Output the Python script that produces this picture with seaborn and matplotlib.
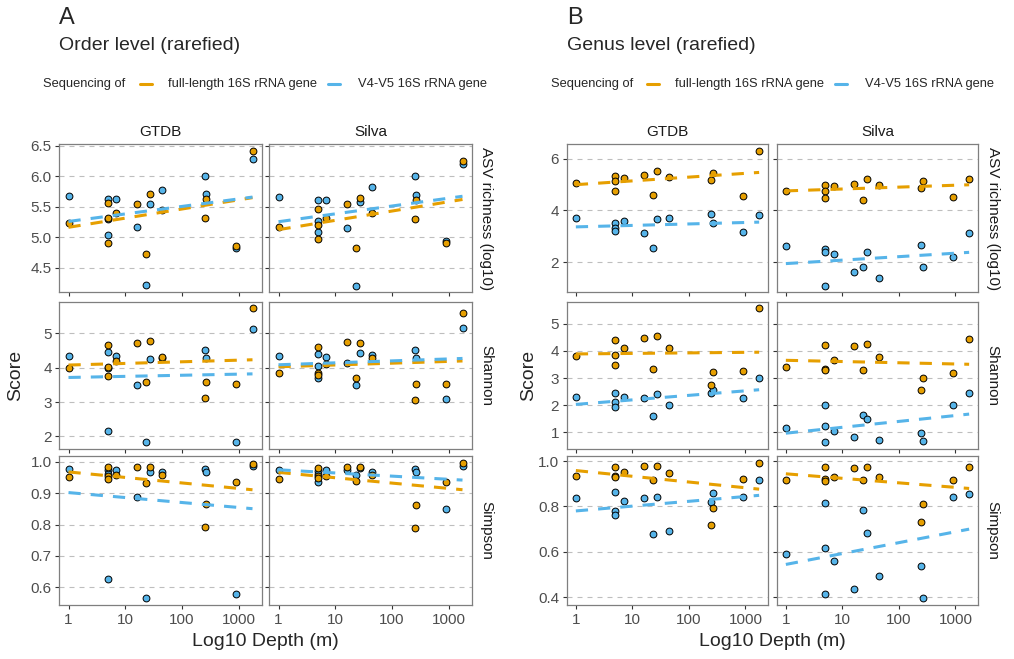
import pandas as pd
import matplotlib
matplotlib.use('Agg')
import matplotlib.pyplot as plt
import matplotlib.ticker as mticker
from matplotlib.lines import Line2D
import seaborn as sns

sns.set_style('white')
plt.rcParams['font.family'] = ['Liberation Sans', 'DejaVu Sans']

# sample depths (m), same samples in every facet
depth = [1, 5, 5, 5, 7, 16, 23, 27, 45, 250, 265, 900, 1750]

# --- Order level ---
order_gtdb_asv_full = [5.23, 5.56, 5.32, 4.91, 5.40, 5.54, 4.73, 5.71, 5.44, 5.31, 5.63, 4.86, 6.41]
order_gtdb_asv_v4v5 = [5.67, 5.62, 5.30, 5.04, 5.63, 5.16, 4.22, 5.55, 5.78, 6.00, 5.70, 4.82, 6.28]
order_silva_asv_full = [5.16, 5.47, 5.20, 4.97, 5.32, 5.54, 4.83, 5.65, 5.39, 5.30, 5.61, 4.91, 6.25]
order_silva_asv_v4v5 = [5.66, 5.61, 5.26, 5.09, 5.61, 5.15, 4.21, 5.58, 5.82, 6.00, 5.69, 4.94, 6.20]

order_gtdb_shannon_full = [3.98, 4.66, 4.02, 3.75, 4.19, 4.73, 3.59, 4.77, 4.31, 3.11, 3.59, 3.54, 5.73]
order_gtdb_shannon_v4v5 = [4.35, 4.47, 4.00, 2.16, 4.35, 3.49, 1.85, 4.26, 4.28, 4.53, 4.28, 1.83, 5.12]
order_silva_shannon_full = [3.86, 4.60, 3.85, 3.80, 4.12, 4.74, 3.70, 4.71, 4.28, 3.06, 3.54, 3.54, 5.61]
order_silva_shannon_v4v5 = [4.33, 4.40, 4.04, 3.70, 4.31, 4.13, 3.51, 4.42, 4.36, 4.53, 4.28, 3.10, 5.15]

order_gtdb_simpson_full = [0.950, 0.983, 0.954, 0.946, 0.958, 0.983, 0.934, 0.983, 0.957, 0.793, 0.865, 0.936, 0.994]
order_gtdb_simpson_v4v5 = [0.977, 0.975, 0.962, 0.627, 0.975, 0.887, 0.565, 0.969, 0.967, 0.978, 0.968, 0.578, 0.986]
order_silva_simpson_full = [0.945, 0.981, 0.955, 0.947, 0.955, 0.983, 0.938, 0.983, 0.957, 0.789, 0.863, 0.935, 0.996]
order_silva_simpson_v4v5 = [0.975, 0.970, 0.960, 0.935, 0.973, 0.973, 0.959, 0.980, 0.967, 0.976, 0.968, 0.848, 0.987]

# --- Genus level ---
genus_gtdb_asv_full = [5.05, 5.32, 5.14, 4.74, 5.26, 5.37, 4.59, 5.53, 5.27, 5.17, 5.45, 4.55, 6.29]
genus_gtdb_asv_v4v5 = [3.71, 3.51, 3.33, 3.21, 3.59, 3.13, 2.56, 3.67, 3.71, 3.85, 3.51, 3.17, 3.82]
genus_silva_asv_full = [4.73, 4.96, 4.73, 4.49, 4.94, 5.01, 4.38, 5.21, 4.99, 4.88, 5.14, 4.50, 5.21]
genus_silva_asv_v4v5 = [2.63, 2.50, 2.37, 1.09, 2.31, 1.60, 1.79, 2.40, 1.38, 2.64, 1.79, 2.21, 3.13]

genus_gtdb_shannon_full = [3.80, 4.39, 3.85, 3.49, 4.10, 4.49, 3.34, 4.55, 4.12, 2.74, 3.24, 3.27, 5.57]
genus_gtdb_shannon_v4v5 = [2.30, 2.44, 2.10, 1.93, 2.30, 2.27, 1.61, 2.41, 2.02, 2.44, 2.56, 2.27, 2.99]
genus_silva_shannon_full = [3.41, 4.21, 3.34, 3.29, 3.65, 4.18, 3.29, 4.27, 3.78, 2.57, 3.00, 3.20, 4.44]
genus_silva_shannon_v4v5 = [1.16, 2.01, 1.22, 0.63, 1.06, 0.82, 1.63, 1.49, 0.73, 0.98, 0.66, 1.99, 2.44]

genus_gtdb_simpson_full = [0.933, 0.975, 0.933, 0.930, 0.950, 0.977, 0.915, 0.978, 0.946, 0.717, 0.792, 0.922, 0.991]
genus_gtdb_simpson_v4v5 = [0.837, 0.862, 0.782, 0.764, 0.823, 0.837, 0.680, 0.843, 0.694, 0.818, 0.861, 0.840, 0.918]
genus_silva_simpson_full = [0.915, 0.975, 0.922, 0.912, 0.930, 0.969, 0.918, 0.972, 0.928, 0.732, 0.812, 0.918, 0.975]
genus_silva_simpson_v4v5 = [0.589, 0.814, 0.617, 0.416, 0.562, 0.437, 0.783, 0.682, 0.493, 0.537, 0.396, 0.840, 0.856]

metrics = ['ASV richness (log10)', 'Shannon', 'Simpson']
dbs = ['GTDB', 'Silva']
methods = ['full-length 16S rRNA gene', 'V4-V5 16S rRNA gene']
colors = {methods[0]: '#E69F00', methods[1]: '#56B4E9'}

series = {
    ('order', 'GTDB', metrics[0]): (order_gtdb_asv_full, order_gtdb_asv_v4v5),
    ('order', 'Silva', metrics[0]): (order_silva_asv_full, order_silva_asv_v4v5),
    ('order', 'GTDB', metrics[1]): (order_gtdb_shannon_full, order_gtdb_shannon_v4v5),
    ('order', 'Silva', metrics[1]): (order_silva_shannon_full, order_silva_shannon_v4v5),
    ('order', 'GTDB', metrics[2]): (order_gtdb_simpson_full, order_gtdb_simpson_v4v5),
    ('order', 'Silva', metrics[2]): (order_silva_simpson_full, order_silva_simpson_v4v5),
    ('genus', 'GTDB', metrics[0]): (genus_gtdb_asv_full, genus_gtdb_asv_v4v5),
    ('genus', 'Silva', metrics[0]): (genus_silva_asv_full, genus_silva_asv_v4v5),
    ('genus', 'GTDB', metrics[1]): (genus_gtdb_shannon_full, genus_gtdb_shannon_v4v5),
    ('genus', 'Silva', metrics[1]): (genus_silva_shannon_full, genus_silva_shannon_v4v5),
    ('genus', 'GTDB', metrics[2]): (genus_gtdb_simpson_full, genus_gtdb_simpson_v4v5),
    ('genus', 'Silva', metrics[2]): (genus_silva_simpson_full, genus_silva_simpson_v4v5),
}

records = []
for (level, db, metric), pair in series.items():
    for m, vals in zip(methods, pair):
        for d, v in zip(depth, vals):
            records.append(dict(level=level, db=db, metric=metric, method=m, depth=d, score=v))
df = pd.DataFrame(records)

W, H = 1014, 659
fig = plt.figure(figsize=(W / 100, H / 100), dpi=100)


def rect(l, t, r, b):
    return [l / W, 1 - b / H, (r - l) / W, (b - t) / H]


panels = [
    dict(level='order', tag='A', title='Order level (rarefied)', lefts=(59.3, 269.3), width=202.4,
         ystep=(0.5, 1, 0.1), yfmt=('%.1f', '%d', '%.1f'), dx=0),
    dict(level='genus', tag='B', title='Genus level (rarefied)', lefts=(566.7, 776.7), width=201.6,
         ystep=(2, 1, 0.2), yfmt=('%d', '%d', '%.1f'), dx=507.4),
]
tops = [144.3, 301.7, 456.3]
bottoms = [292.3, 449.0, 605.0]

for p in panels:
    first = None
    for i, metric in enumerate(metrics):
        row_ax = None
        for j, db in enumerate(dbs):
            l = p['lefts'][j]
            ax = fig.add_axes(rect(l, tops[i], l + p['width'], bottoms[i]), sharex=first, sharey=row_ax)
            if first is None:
                first = ax
            if row_ax is None:
                row_ax = ax
            sub = df[(df.level == p['level']) & (df.db == db) & (df.metric == metric)]
            # blue points first, orange on top
            for m in methods[::-1]:
                s = sub[sub.method == m]
                sns.scatterplot(data=s, x='depth', y='score', color=colors[m], edgecolor='black',
                                linewidth=0.7, s=24, ax=ax, zorder=2, legend=False)
            for m in methods:
                s = sub[sub.method == m]
                sns.regplot(data=s, x='depth', y='score', logx=True, scatter=False, ci=None,
                            truncate=True, ax=ax,
                            line_kws=dict(color=colors[m], lw=2.2, ls=(0, (4, 3.3)), zorder=3))
            ax.set_xscale('log')
            ax.xaxis.set_major_locator(mticker.FixedLocator([1, 10, 100, 1000]))
            ax.xaxis.set_major_formatter(mticker.FuncFormatter(lambda v, _: f'{v:g}'))
            ax.xaxis.set_minor_locator(mticker.NullLocator())
            ax.yaxis.set_major_locator(mticker.MultipleLocator(p['ystep'][i]))
            ax.yaxis.set_major_formatter(mticker.FormatStrFormatter(p['yfmt'][i]))
            ax.set_xlabel('')
            ax.set_ylabel('')
            ax.grid(axis='y', color='#BEBEBE', lw=0.8, ls=(0, (4.5, 4.5)))
            ax.grid(axis='x', visible=False)
            ax.set_axisbelow(True)
            for sp in ax.spines.values():
                sp.set_color('#7F7F7F')
                sp.set_linewidth(0.9)
            ax.tick_params(length=3, width=0.8, color='#333333', labelcolor='#4D4D4D',
                           labelsize=11, pad=2.5, left=True, bottom=True)
            if i < 2:
                ax.tick_params(labelbottom=False)
            if j == 1:
                ax.tick_params(labelleft=False)
            if i == 0:
                ax.text(0.5, 1 + 12.6 / 148, db, transform=ax.transAxes, ha='center', va='center',
                        fontsize=11, color='#1A1A1A')
            if j == 1:
                ax.text(1 + 14.3 / p['width'], 0.5, metric, transform=ax.transAxes, rotation=-90,
                        ha='center', va='center', fontsize=11, color='#1A1A1A')

    dx = p['dx']
    fig.text((59.3 + dx) / W, 1 - 18 / H, p['tag'], fontsize=17, ha='left', va='center')
    fig.text((59.3 + dx) / W, 1 - 46 / H, p['title'], fontsize=14, ha='left', va='center')
    fig.text((15.7 + dx + (6 if dx else 0)) / W, 1 - 375 / H, 'Score', fontsize=14, rotation=90,
             ha='center', va='center')
    fig.text((265.5 + dx - 0.9 if dx else 265.5) / W, 1 - 641.7 / H, 'Log10 Depth (m)', fontsize=14,
             ha='center', va='center')
    # legend row
    ly = 1 - 84 / H
    fig.text((43.3 + dx) / W, ly, 'Sequencing of', fontsize=9.3, ha='left', va='center')
    for (k0, k1, tx), m in zip([(140, 152, 168), (328, 340, 358)], methods):
        fig.add_artist(Line2D([(k0 + dx) / W, (k1 + dx) / W], [ly, ly], color=colors[m], lw=2.2,
                              transform=fig.transFigure))
        fig.text((tx + dx) / W, ly, m, fontsize=9.3, ha='left', va='center')

fig.savefig('out.png', dpi=100)
